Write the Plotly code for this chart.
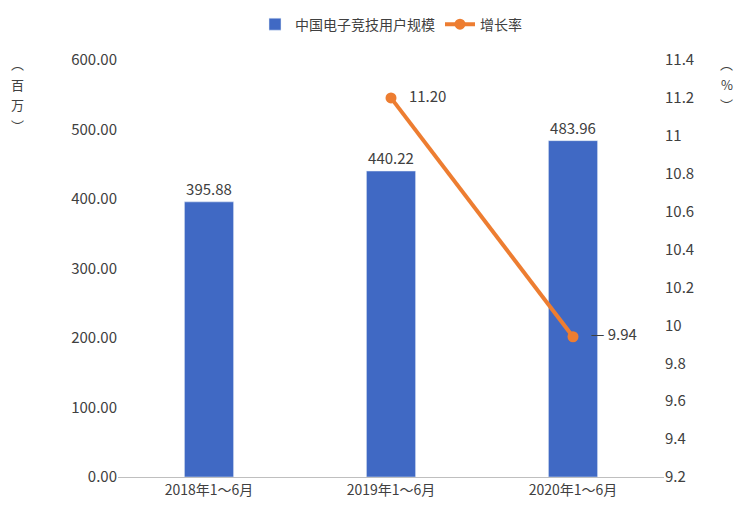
import plotly.graph_objects as go

categories = ["2018年1～6月", "2019年1～6月", "2020年1～6月"]
users = [395.88, 440.22, 483.96]
growth = [None, 11.20, 9.94]
growth_labels = ["", "   11.20", "   — 9.94"]

fig = go.Figure()
fig.add_trace(go.Bar(x=categories, y=users, name="中国电子竞技用户规模", marker_color="#4069c4",
                     width=0.27, text=[f"{v:.2f}" for v in users], textposition="outside",
                     textfont=dict(size=15, color="#404040"), cliponaxis=False))
fig.add_trace(go.Scatter(x=categories, y=growth, name="增长率", yaxis="y2", mode="lines+markers+text",
                         line=dict(color="#ed7d31", width=4), marker=dict(size=11, color="#ed7d31"),
                         text=growth_labels, textposition="middle right",
                         textfont=dict(size=15, color="#404040"), cliponaxis=False))

for i, ch in enumerate(["︵", "百", "万", "︶"]):
    fig.add_annotation(text=ch, xref="paper", yref="paper", x=-0.2, y=1.02 - i * 0.05,
                       showarrow=False, font=dict(size=13, color="#404040"), yanchor="top")
for i, ch in enumerate(["︵", "%", "︶"]):
    fig.add_annotation(text=ch, xref="paper", yref="paper", x=1.13, y=1.02 - i * 0.05,
                       showarrow=False, font=dict(size=13, color="#404040"), yanchor="top")

fig.update_layout(
    width=746, height=511, plot_bgcolor="white", paper_bgcolor="white",
    font=dict(family="Noto Sans CJK SC", color="#404040", size=14),
    margin=dict(l=110, r=90, t=52, b=42, autoexpand=False),
    legend=dict(orientation="h", x=0.5, xanchor="center", y=1.085, yanchor="middle", font=dict(size=14)),
    showlegend=True,
    xaxis=dict(showline=True, linecolor="#bfbfbf", tickfont=dict(size=14)),
    yaxis=dict(range=[0, 600], dtick=100, tickformat=".2f", showgrid=False, tickfont=dict(size=15)),
    yaxis2=dict(range=[9.2, 11.4], dtick=0.2, overlaying="y", side="right", showgrid=False,
                tickfont=dict(size=15)),
)
fig.write_html("out.html")
